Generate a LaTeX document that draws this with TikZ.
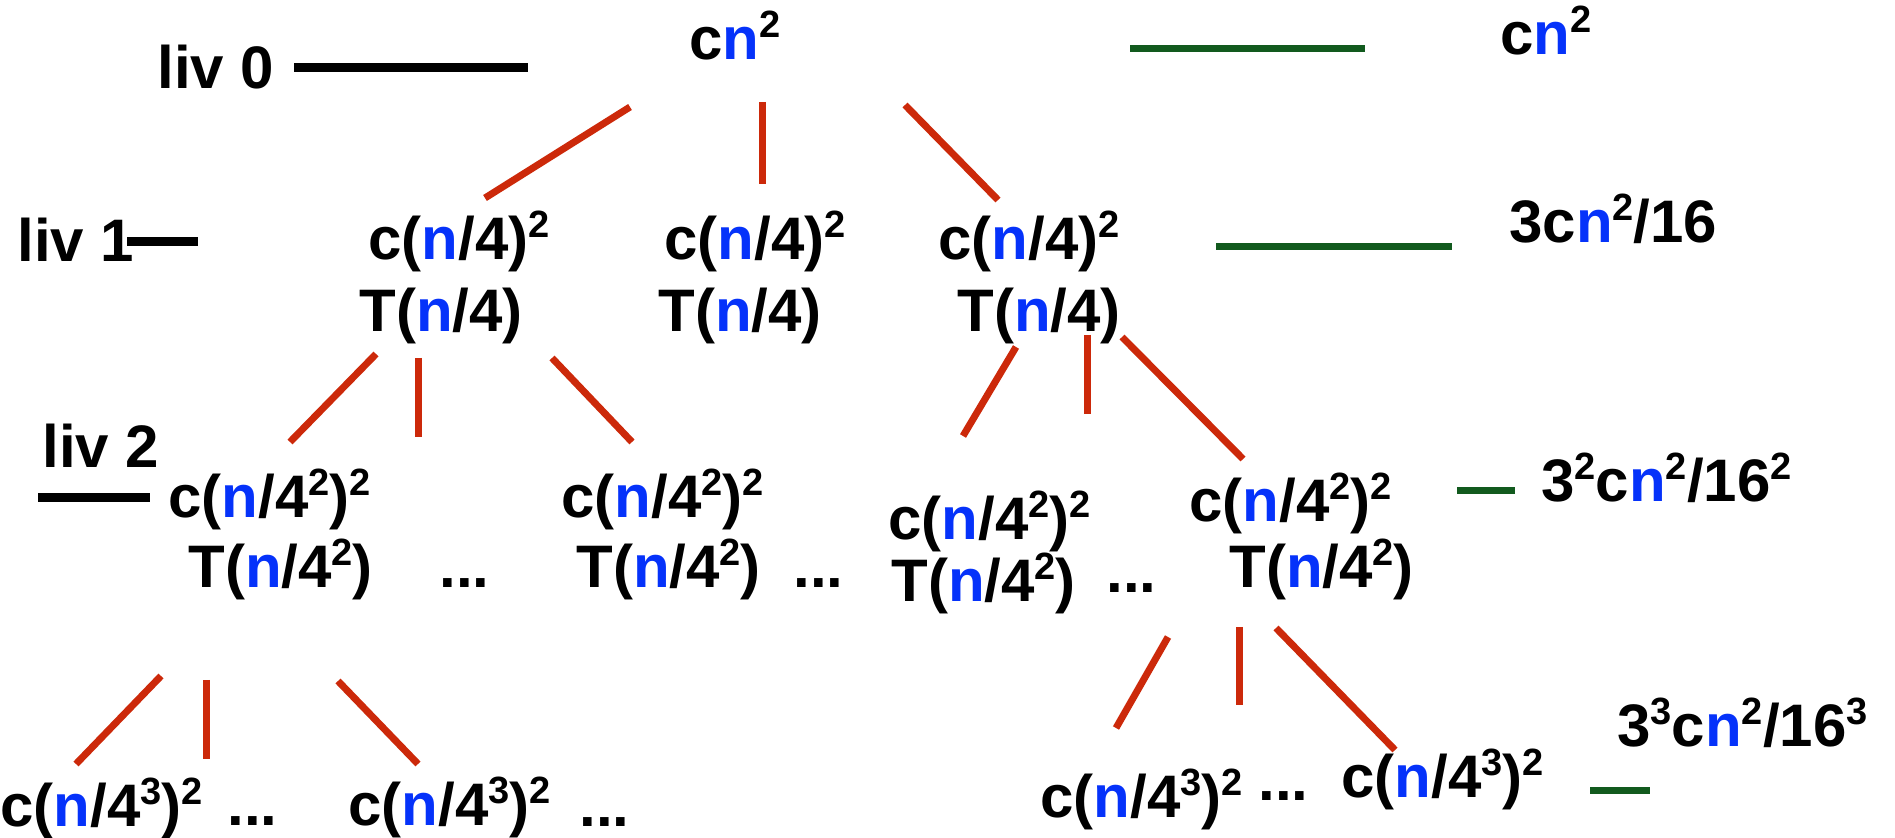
\documentclass[tikz,border=0pt]{standalone}
\usepackage{fontspec}
\setmainfont{Liberation Sans}
\usepackage{xcolor}
\definecolor{edgered}{RGB}{204,41,10}
\definecolor{nblue}{RGB}{5,50,250}
\definecolor{sumgreen}{RGB}{18,90,30}
\newcommand{\bn}{\textcolor{nblue}{n}}
\newcommand{\sups}[1]{\raisebox{11pt}{\fontsize{19pt}{19pt}\selectfont #1}}
\tikzset{%
  lbl/.style={inner sep=0pt, anchor=base west, font=\fontsize{30pt}{36pt}\selectfont\bfseries},
  edge/.style={color=edgered, line width=3.5pt},
  lvlline/.style={black, line width=4.5pt},
  sumline/.style={color=sumgreen, line width=3.5pt}
}

\begin{document}
\begin{tikzpicture}[x=0.5pt,y=-0.5pt]
\useasboundingbox (0,0) rectangle (1895,838);
% levels
\node[lbl] (liv0) at (157,89) {liv 0};
\node[lbl] (liv1) at (17,262) {liv 1};
\node[lbl] (liv2) at (42,468) {liv 2};
\draw[lvlline] ([shift={(137,-21)}]liv0.base west) -- ++(234,0);
\draw[lvlline] ([shift={(110,-20)}]liv1.base west) -- ++(71,0);
\draw[lvlline] ([shift={(-4,30)}]liv2.base west) -- ++(112,0);
% tree
\node[lbl] (root) at (689,60) {c\bn\sups{2}};
\node[lbl] (n1c) at (368,260) {c(\bn/4)\sups{2}};
\node[lbl] (n1t) at (359,332) {T(\bn/4)};
\node[lbl] (n2c) at (664,260) {c(\bn/4)\sups{2}};
\node[lbl] (n2t) at (658,332) {T(\bn/4)};
\node[lbl] (n3c) at (938,260) {c(\bn/4)\sups{2}};
\node[lbl] (n3t) at (957,332) {T(\bn/4)};
\node[lbl] (n21c) at (168,518) {c(\bn/4\sups{2})\sups{2}};
\node[lbl] (n21t) at (188,588) {T(\bn/4\sups{2})};
\node[lbl] (d1) at (439,588) {...};
\node[lbl] (n22c) at (561,518) {c(\bn/4\sups{2})\sups{2}};
\node[lbl] (n22t) at (576,588) {T(\bn/4\sups{2})};
\node[lbl] (d2) at (793,588) {...};
\node[lbl] (n23c) at (888,540) {c(\bn/4\sups{2})\sups{2}};
\node[lbl] (n23t) at (891,602) {T(\bn/4\sups{2})};
\node[lbl] (d3) at (1106,593) {...};
\node[lbl] (n24c) at (1189,522) {c(\bn/4\sups{2})\sups{2}};
\node[lbl] (n24t) at (1229,588) {T(\bn/4\sups{2})};
\node[lbl] (n31) at (0,827) {c(\bn/4\sups{3})\sups{2}};
\node[lbl] (d4) at (227,825) {...};
\node[lbl] (n32) at (348,825) {c(\bn/4\sups{3})\sups{2}};
\node[lbl] (d5) at (579,827) {...};
\node[lbl] (n33) at (1040,817) {c(\bn/4\sups{3})\sups{2}};
\node[lbl] (d6) at (1258,800) {...};
\node[lbl] (n34) at (1341,798) {c(\bn/4\sups{3})\sups{2}};
% edges
\draw[edge] ([shift={(-59,47)}]root.base west) -- ([shift={(117,-62)}]n1c.base west);
\draw[edge] ([shift={(73,42)}]root.base west) -- ([shift={(98,-76)}]n2c.base west);
\draw[edge] ([shift={(216,45)}]root.base west) -- ([shift={(60,-60)}]n3c.base west);
\draw[edge] ([shift={(17,22)}]n1t.base west) -- ([shift={(122,-76)}]n21c.base west);
\draw[edge] ([shift={(59,26)}]n1t.base west) -- ([shift={(59,105)}]n1t.base west);
\draw[edge] ([shift={(193,26)}]n1t.base west) -- ([shift={(71,-76)}]n22c.base west);
\draw[edge] ([shift={(59,15)}]n3t.base west) -- ([shift={(75,-104)}]n23c.base west);
\draw[edge] ([shift={(130,3)}]n3t.base west) -- ([shift={(130,82)}]n3t.base west);
\draw[edge] ([shift={(165,5)}]n3t.base west) -- ([shift={(54,-63)}]n24c.base west);
\draw[edge] ([shift={(-27,88)}]n21t.base west) -- ([shift={(76,-63)}]n31.base west);
\draw[edge] ([shift={(18,92)}]n21t.base west) -- ([shift={(18,171)}]n21t.base west);
\draw[edge] ([shift={(150,93)}]n21t.base west) -- ([shift={(70,-61)}]n32.base west);
\draw[edge] ([shift={(-61,49)}]n24t.base west) -- ([shift={(76,-89)}]n33.base west);
\draw[edge] ([shift={(10,39)}]n24t.base west) -- ([shift={(10,117)}]n24t.base west);
\draw[edge] ([shift={(47,40)}]n24t.base west) -- ([shift={(54,-48)}]n34.base west);
% sums
\node[lbl] (sum0) at (1500,55) {c\bn\sups{2}};
\node[lbl] (sum1) at (1509,243) {3c\bn\sups{2}/16};
\node[lbl] (sum2) at (1541,502) {3\sups{2}c\bn\sups{2}/16\sups{2}};
\node[lbl] (sum3) at (1617,747) {3\sups{3}c\bn\sups{2}/16\sups{3}};
\draw[sumline] ([shift={(-370,-6)}]sum0.base west) -- ++(235,0);
\draw[sumline] ([shift={(-293,4)}]sum1.base west) -- ++(236,0);
\draw[sumline] ([shift={(-84,-11)}]sum2.base west) -- ++(58,0);
\draw[sumline] ([shift={(-27,43)}]sum3.base west) -- ++(60,0);
\end{tikzpicture}
\end{document}
